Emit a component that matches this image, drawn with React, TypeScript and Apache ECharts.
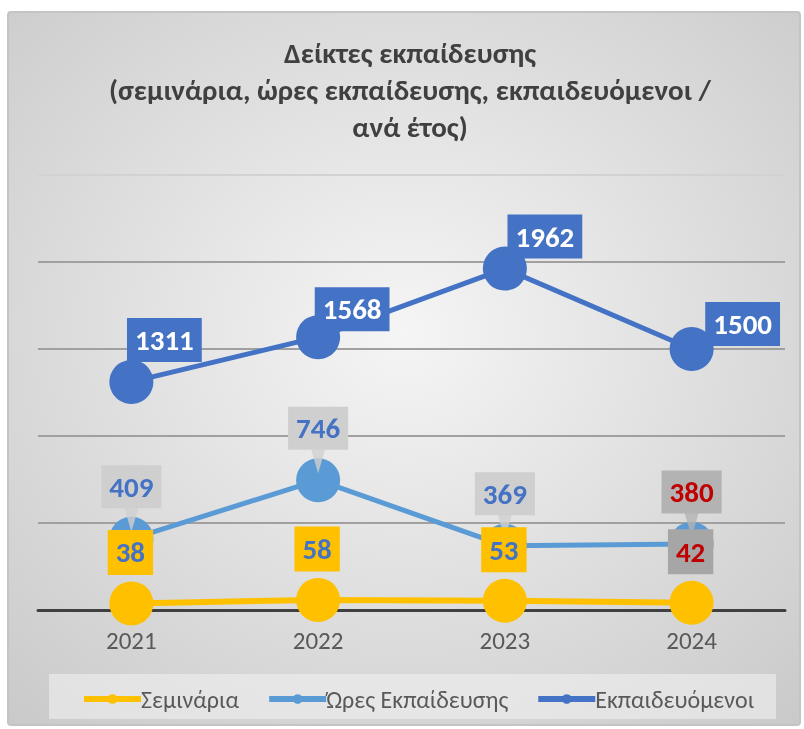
import React, { useEffect, useRef } from "react";
import * as echarts from "echarts";

const categories = ["2021", "2022", "2023", "2024"];
const seminars = [38, 58, 53, 42];
const hours = [409, 746, 369, 380];
const trainees = [1311, 1568, 1962, 1500];

const seriesNames = ["Σεμινάρια", "Ώρες Εκπαίδευσης", "Εκπαιδευόμενοι"];
const titleText = "Δείκτες εκπαίδευσης\n(σεμινάρια, ώρες εκπαίδευσης, εκπαιδευόμενοι /\nανά έτος)";

const YELLOW = "#FFC000";
const LIGHTBLUE = "#5B9BD5";
const BLUE = "#4472C4";
const RED = "#C00000";
const FONT = "Carlito, 'Liberation Sans', 'Noto Sans', sans-serif";

// label offsets (style only)
const traineeOffsets = [[33, -42], [34, -28], [40, -32], [51, -25]];

export default function App() {
  const ref = useRef<HTMLDivElement>(null);
  useEffect(() => {
    if (!ref.current) return;
    const chart = echarts.init(ref.current, null, { renderer: "svg" });

    const lbl = (bg: string, color: string, pad: number[]) => ({
      show: true,
      position: "inside",
      backgroundColor: bg,
      color,
      fontFamily: FONT,
      fontWeight: "bold",
      fontSize: 29,
      lineHeight: 29,
      padding: pad,
    });

    const seminarData = seminars.map((v, i) => ({
      value: v,
      label: {
        ...lbl(i === 3 ? "#A6A6A6" : YELLOW, i === 3 ? RED : BLUE, [9, 8, 7, 8]),
        offset: [-1, -51],
      },
    }));
    const hoursData = hours.map((v, i) => ({
      value: v,
      label: {
        ...lbl(i === 3 ? "#B3B3B3" : "#CFCFCF", i === 3 ? RED : BLUE, [8, 8, 6, 8]),
        offset: [0, -52],
      },
    }));
    const pointerData = hours.map((v, i) => ({
      value: v,
      itemStyle: { color: i === 3 ? "#B3B3B3" : "#CFCFCF" },
    }));
    const traineeData = trainees.map((v, i) => ({
      value: v,
      label: {
        ...lbl(BLUE, "#FFFFFF", [8, 8, 7, 8]),
        offset: traineeOffsets[i],
      },
    }));

    chart.setOption({
      animation: false,
      graphic: [
        {
          type: "rect",
          z: -10,
          shape: { x: 8, y: 12, width: 792, height: 713, r: 3 },
          style: {
            fill: {
              type: "radial",
              x: 0.5,
              y: 0.45,
              r: 0.75,
              colorStops: [
                { offset: 0, color: "#F5F5F5" },
                { offset: 1, color: "#C9C9C9" },
              ],
            },
            stroke: "#C4C4C4",
            lineWidth: 2,
          },
        },
        {
          type: "rect",
          z: -5,
          shape: { x: 49, y: 674, width: 727, height: 45 },
          style: { fill: "rgba(240,240,240,0.6)" },
        },
        {
          type: "text",
          z: 10,
          x: 410,
          y: 34,
          style: {
            text: titleText,
            align: "center",
            verticalAlign: "top",
            fontFamily: FONT,
            fontWeight: "bold",
            fontSize: 29,
            lineHeight: 37,
            fill: "#404040",
          },
        },
      ],
      legend: {
        data: seriesNames,
        top: 682,
        left: 76,
        itemWidth: 57,
        itemHeight: 12,
        itemGap: 27,
        lineStyle: { width: 6 },
        textStyle: { fontFamily: FONT, fontSize: 24, color: "#595959", padding: [0, 0, 0, -5] },
      },
      grid: { left: 38, right: 19, top: 175, bottom: 119 },
      xAxis: {
        type: "category",
        data: categories,
        axisLine: { lineStyle: { color: "#404040", width: 3 } },
        axisTick: { show: false },
        axisLabel: { fontFamily: FONT, fontSize: 25, color: "#595959", margin: 18 },
      },
      yAxis: {
        type: "value",
        min: 0,
        max: 2500,
        interval: 500,
        axisLabel: { show: false },
        axisLine: { show: false },
        axisTick: { show: false },
        splitLine: {
          lineStyle: {
            color: ["#A0A0A0", "#A0A0A0", "#A0A0A0", "#A0A0A0", "#A0A0A0", "#D2D2D2"],
            width: 2,
          },
        },
      },
      series: [
        {
          name: seriesNames[2],
          type: "line",
          data: traineeData,
          symbol: "circle",
          symbolSize: 44,
          itemStyle: { color: BLUE },
          lineStyle: { color: BLUE, width: 5 },
          z: 2,
        },
        {
          name: seriesNames[1],
          type: "line",
          data: hoursData,
          symbol: "circle",
          symbolSize: 44,
          itemStyle: { color: LIGHTBLUE },
          lineStyle: { color: LIGHTBLUE, width: 5 },
          z: 3,
        },
        {
          name: "pointer",
          type: "scatter",
          data: pointerData,
          symbol: "triangle",
          symbolRotate: 180,
          symbolSize: [14, 24],
          symbolOffset: [0, -19],
          z: 4,
          silent: true,
        },
        {
          name: seriesNames[0],
          type: "line",
          data: seminarData,
          symbol: "circle",
          symbolSize: 44,
          itemStyle: { color: YELLOW },
          lineStyle: { color: YELLOW, width: 6 },
          z: 5,
        },
      ],
    });
    return () => chart.dispose();
  }, []);
  return (
    <div
      ref={ref}
      style={{ position: "fixed", left: 0, top: 0, width: 804, height: 729 }}
    />
  );
}
